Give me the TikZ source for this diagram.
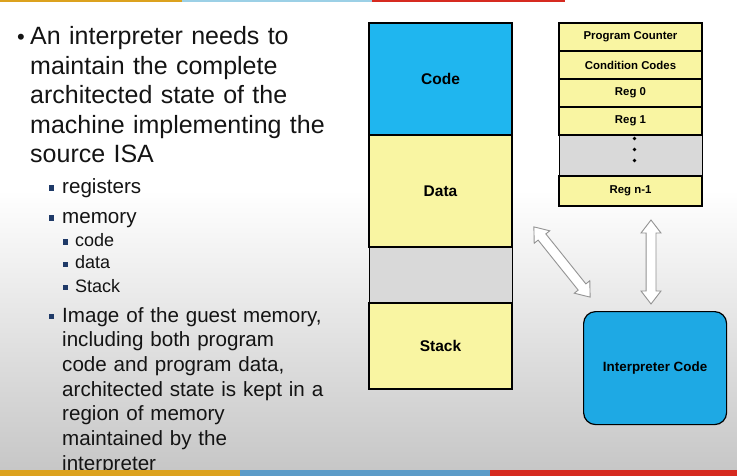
\documentclass[tikz,border=0pt]{standalone}
\usepackage{fontspec}
\setmainfont{Liberation Sans}
\usetikzlibrary{positioning, shapes.arrows}

\definecolor{codeblue}{HTML}{1FB6EF}
\definecolor{cellyellow}{HTML}{F9F5A2}
\definecolor{cellgrey}{HTML}{D9D9D9}
\definecolor{interpblue}{HTML}{1EA9E4}
\definecolor{bargold}{HTML}{DCA21E}
\definecolor{toplblue}{HTML}{9CD0E6}
\definecolor{barblue}{HTML}{5B9BC8}
\definecolor{barred}{HTML}{D62A20}
\definecolor{txt}{HTML}{141414}
\definecolor{navy}{HTML}{1F3A68}

\tikzset{
    memcell/.style={draw, line width=1.8pt, minimum width=143pt, inner sep=0pt, outer sep=0pt,
        font=\fontsize{15.5}{18}\selectfont\bfseries},
    regcell/.style={draw, line width=1.8pt, minimum width=143pt, minimum height=28pt, fill=cellyellow,
        inner sep=0pt, outer sep=0pt, font=\fontsize{11.4}{13}\selectfont\bfseries},
    dblarrow/.style={double arrow, draw=gray!85, fill=white, line width=0.9pt, inner sep=4.5pt,
        double arrow head extend=5pt, double arrow tip angle=75},
    bodytext/.style={anchor=base west, inner sep=0pt, text=txt, text width=300pt, align=left},
}

\begin{document}
\begin{tikzpicture}[x=1pt, y=-1pt]
    \useasboundingbox (0,0) rectangle (737,476);
    \fill[white] (0,0) rectangle (737,476);
    \shade[top color=white, bottom color=gray!45] (0,190) rectangle (737,476);

    % memory image
    \node[memcell, fill=codeblue, minimum height=112pt, anchor=north west] (code) at (369,23) {Code};
    \node[memcell, fill=cellyellow, minimum height=112pt, below=0pt of code] (data) {Data};
    \node[memcell, fill=cellgrey, line width=0.8pt, minimum height=56pt, below=0pt of data] (gap) {};
    \node[memcell, fill=cellyellow, minimum height=86pt, below=0pt of gap] (stack) {Stack};

    % register file
    \node[regcell, anchor=north west] (pc) at (559,23) {Program Counter};
    \node[regcell, below=0pt of pc] (cc) {Condition Codes};
    \node[regcell, below=0pt of cc] (reg0) {Reg 0};
    \node[regcell, below=0pt of reg0] (reg1) {Reg 1};
    \node[regcell, fill=cellgrey, line width=0.8pt, minimum height=41pt, below=0pt of reg1] (regdots) {};
    \node[regcell, minimum height=30pt, below=0pt of regdots] (regn) {Reg n-1};
    \foreach \dy in {17,6,-5}
        \fill ([xshift=4pt,yshift=\dy pt]regdots.center) circle (1.8pt);

    \node[draw, line width=1.2pt, rounded corners=12pt, fill=interpblue, minimum width=143pt,
        minimum height=113pt, anchor=north west, font=\fontsize{13.4}{16}\selectfont\bfseries] (interp) at (583,311) {Interpreter Code};

    \node[dblarrow, minimum height=90pt, rotate=-51.3] (memlink) at (562,262) {};
    \node[dblarrow, minimum height=84pt, rotate=90] (reglink) at (651,262) {};

    % slide text
    \node[anchor=base, inner sep=0pt, text=txt, font=\fontsize{22}{26}\selectfont] (dot) at (21,45) {•};
    \node[bodytext, font=\fontsize{25}{29.5}\selectfont] (intro) at (30,45)
        {An interpreter needs to\\ maintain the complete\\ architected state of the\\ machine implementing the\\ source ISA};
    \node[bodytext, font=\fontsize{20.6}{24.7}\selectfont] (regs) at (62,194) {registers};
    \node[bodytext, font=\fontsize{20.6}{24.7}\selectfont] (mem) at (62,224) {memory};
    \node[bodytext, font=\fontsize{18}{22}\selectfont] (mcode) at (75,247) {code};
    \node[bodytext, font=\fontsize{18}{22}\selectfont] (mdata) at (75,269) {data};
    \node[bodytext, font=\fontsize{18}{22}\selectfont] (mstack) at (75,292) {Stack};
    \node[bodytext, font=\fontsize{20.6}{24.7}\selectfont] (image) at (62,322)
        {Image of the guest memory,\\ including both program\\ code and program data,\\ architected state is kept in a\\ region of memory\\ maintained by the\\ interpreter};
    \foreach \y in {185.5,215.5,313.5}
        \fill[navy] (48.5,\y) rectangle +(5.5,5.5);
    \foreach \y in {239.5,261.5,284.5}
        \fill[navy] (63,\y) rectangle +(5,5);

    % slide bars
    \fill[bargold] (0,0) rectangle (182,2.5);
    \fill[toplblue] (182,0) rectangle (372,2.5);
    \fill[barred] (372,0) rectangle (565,2.5);
    \fill[bargold] (0,470) rectangle (240,476);
    \fill[barblue] (240,470) rectangle (490,476);
    \fill[barred] (490,470) rectangle (737,476);
\end{tikzpicture}
\end{document}
